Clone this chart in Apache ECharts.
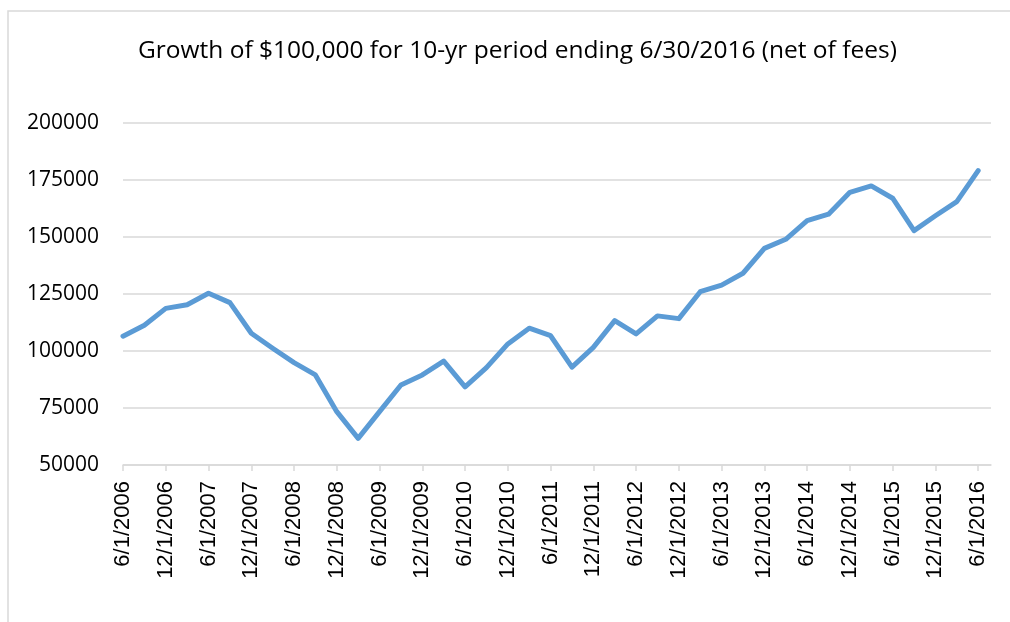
<!DOCTYPE html>
<html>
<head>
<meta charset="utf-8">
<script src="https://cdn.jsdelivr.net/npm/echarts@6/dist/echarts.min.js"></script>
<style>
  html, body { margin: 0; padding: 0; background: #fff; }
  #chart { width: 1010px; height: 622px; }
</style>
</head>
<body>
<div id="chart"></div>
<script>
// quarterly dates, labels shown every 6 months
const dates = [
  '6/1/2006', '9/1/2006', '12/1/2006',
  '3/1/2007', '6/1/2007', '9/1/2007', '12/1/2007',
  '3/1/2008', '6/1/2008', '9/1/2008', '12/1/2008',
  '3/1/2009', '6/1/2009', '9/1/2009', '12/1/2009',
  '3/1/2010', '6/1/2010', '9/1/2010', '12/1/2010',
  '3/1/2011', '6/1/2011', '9/1/2011', '12/1/2011',
  '3/1/2012', '6/1/2012', '9/1/2012', '12/1/2012',
  '3/1/2013', '6/1/2013', '9/1/2013', '12/1/2013',
  '3/1/2014', '6/1/2014', '9/1/2014', '12/1/2014',
  '3/1/2015', '6/1/2015', '9/1/2015', '12/1/2015',
  '3/1/2016', '6/1/2016'
];

const growth = [
  106500, 111300, 118700,
  120300, 125300, 121200, 107800,
  101200, 94900, 89500, 73400,
  61700, 73400, 85100, 89500,
  95600, 84300, 92700, 103100,
  110000, 106700, 92900, 101600,
  113300, 107500, 115400, 114200,
  126000, 128900, 134100, 145000,
  149000, 157200, 160000, 169600,
  172400, 167000, 152800, 159300,
  165500, 179100
];

// x tick positions (every other quarter)
const tickIdx = dates.map((d, i) => i).filter((i) => i % 2 === 0);

const chart = echarts.init(document.getElementById('chart'));

const option = {
  animation: false,
  backgroundColor: '#fff',
  graphic: [
    {
      type: 'rect',
      shape: { x: 8, y: 11, width: 1100, height: 700 },
      style: { fill: 'none', stroke: '#d9d9d9', lineWidth: 1.5 },
    },
  ],
  title: {
    text: 'Growth of $100,000 for 10-yr period ending 6/30/2016 (net of fees)',
    left: 133,
    top: 34,
    textStyle: {
      fontFamily: 'Open Sans',
      fontWeight: 'normal',
      fontSize: 24.5,
      color: '#000',
    },
  },
  grid: {
    left: 123,
    right: 19,
    top: 123,
    bottom: 157,
  },
  xAxis: {
    type: 'value',
    min: 0,
    max: 40.6,
    splitLine: { show: false },
    axisLine: {
      show: true,
      lineStyle: { color: '#d9d9d9', width: 1.5 },
    },
    axisTick: {
      show: true,
      length: 6,
      customValues: tickIdx,
      lineStyle: { color: '#d9d9d9', width: 1.5 },
    },
    axisLabel: {
      customValues: tickIdx,
      rotate: 90,
      margin: 16,
      fontFamily: 'Liberation Sans',
      fontSize: 22,
      color: '#000',
      formatter: (v) => dates[Math.round(v)] || '',
    },
  },
  yAxis: {
    type: 'value',
    min: 50000,
    max: 200000,
    interval: 25000,
    axisLine: { show: false },
    axisTick: { show: false },
    splitLine: {
      lineStyle: { color: '#d9d9d9', width: 1.5 },
    },
    axisLabel: {
      margin: 24,
      fontFamily: 'Open Sans',
      fontSize: 21,
      color: '#000',
      formatter: (v) => String(v),
    },
  },
  series: [
    {
      name: 'Growth',
      type: 'line',
      data: growth.map((v, i) => [i, v]),
      showSymbol: false,
      lineStyle: {
        color: '#5b9bd5',
        width: 5,
        cap: 'round',
        join: 'round',
      },
    },
  ],
};

chart.setOption(option);
</script>
</body>
</html>
